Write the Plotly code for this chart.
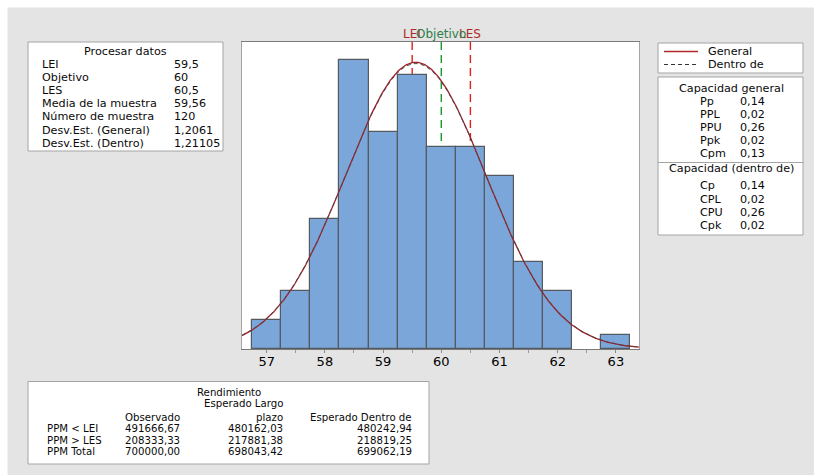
import numpy as np
import plotly.graph_objects as go

# ---------------- data ----------------
bin_centers = [57.0, 57.5, 58.0, 58.5, 59.0, 59.5, 60.0, 60.5, 61.0, 61.5, 62.0, 63.0]
bin_counts = [2, 4, 9, 20, 15, 19, 14, 14, 12, 6, 4, 1]
bin_width = 0.5

LEI = 59.5
objetivo = 60.0
LES = 60.5
media = 59.56
n_muestra = 120
sd_general = 1.2061
sd_dentro = 1.21105

x_ticks = [57, 58, 59, 60, 61, 62, 63]

proc_labels = ["LEI", "Objetivo", "LES", "Media de la muestra", "Número de muestra",
               "Desv.Est. (General)", "Desv.Est. (Dentro)"]
proc_values = ["59,5", "60", "60,5", "59,56", "120", "1,2061", "1,21105"]

cap_gen_labels = ["Pp", "PPL", "PPU", "Ppk", "Cpm"]
cap_gen_values = ["0,14", "0,02", "0,26", "0,02", "0,13"]
cap_den_labels = ["Cp", "CPL", "CPU", "Cpk"]
cap_den_values = ["0,14", "0,02", "0,26", "0,02"]

rend_rows = ["PPM < LEI", "PPM > LES", "PPM Total"]
rend_observado = ["491666,67", "208333,33", "700000,00"]
rend_largo = ["480162,03", "217881,38", "698043,42"]
rend_dentro = ["480242,94", "218819,25", "699062,19"]

# ---------------- layout geometry (screen px) ----------------
FIG_W, FIG_H = 814, 475
PL, PT, PW, PH = 242, 42, 397, 307  # plot area on screen


def P(sx, sy):
    return (sx - PL) / PW, (PT + PH - sy) / PH


FONT = "DejaVu Sans"
TXT = "#0A0A0A"
FS = 11.2
FS4 = 10.2

fig = go.Figure()

fig.add_trace(go.Bar(
    x=bin_centers, y=bin_counts, width=bin_width,
    marker=dict(color="#7BA6DA", line=dict(color="#555A60", width=1.2)),
    showlegend=False, hoverinfo="skip"))

xs = np.linspace(56.576, 63.397, 400)
scale = n_muestra * bin_width
y_gen = scale * np.exp(-0.5 * ((xs - media) / sd_general) ** 2) / (sd_general * np.sqrt(2 * np.pi))
y_den = scale * np.exp(-0.5 * ((xs - media) / sd_dentro) ** 2) / (sd_dentro * np.sqrt(2 * np.pi))
fig.add_trace(go.Scatter(x=xs, y=y_gen, mode="lines",
                         line=dict(color="#A3202A", width=1.3), showlegend=False, hoverinfo="skip"))
fig.add_trace(go.Scatter(x=xs, y=y_den, mode="lines",
                         line=dict(color="#4A4A4A", width=1.0, dash="4px,3px"),
                         showlegend=False, hoverinfo="skip"))

shapes = []
annots = []

# white page strips (top / left)
a0, b0 = P(0, 0)
a1, b1 = P(FIG_W, 7.5)
shapes.append(dict(type="rect", xref="paper", yref="paper", x0=a0, x1=a1, y0=b1, y1=b0,
                   line=dict(width=0), fillcolor="white", layer="above"))
a0, b0 = P(0, 0)
a1, b1 = P(7.5, FIG_H)
shapes.append(dict(type="rect", xref="paper", yref="paper", x0=a0, x1=a1, y0=b1, y1=b0,
                   line=dict(width=0), fillcolor="white", layer="above"))

# spec lines
for val, col in [(LEI, "#E0201E"), (objetivo, "#1A9A2A"), (LES, "#E0201E")]:
    shapes.append(dict(type="line", xref="x", yref="paper", x0=val, x1=val, y0=0, y1=1,
                       layer="below", line=dict(color=col, width=1.4, dash="8px,5px")))
_, ylab = P(0, 33.5)
for val, txt, col in [(LEI, "LEI", "#B0282A"), (LES, "LES", "#B0282A"), (objetivo, "Objetivo", "#2E7D4A")]:
    annots.append(dict(x=val, y=ylab, xref="x", yref="paper", text=txt, showarrow=False,
                       xanchor="center", yanchor="middle",
                       font=dict(family=FONT, size=12, color=col)))


def box(x0, y0, x1, y1):
    a0, b0 = P(x0, y0)
    a1, b1 = P(x1, y1)
    shapes.append(dict(type="rect", xref="paper", yref="paper", x0=a0, x1=a1, y0=b1, y1=b0,
                       line=dict(color="#A4A4A4", width=1), fillcolor="white", layer="above"))


def hline(x0, x1, y, color, dash="solid", width=1):
    a0, b = P(x0, y)
    a1, _ = P(x1, y)
    shapes.append(dict(type="line", xref="paper", yref="paper", x0=a0, x1=a1, y0=b, y1=b,
                       line=dict(color=color, width=width, dash=dash), layer="above"))


def text(sx, sy, t, anchor="left", size=FS):
    a, b = P(sx, sy)
    annots.append(dict(x=a, y=b, xref="paper", yref="paper", text=t, showarrow=False,
                       xanchor=anchor, yanchor="middle", align=anchor,
                       font=dict(family=FONT, size=size, color=TXT)))


# box 1: Procesar datos
box(28, 42, 223, 151)
text(125, 51.5, "Procesar datos", "center")
for lab, val, yy in zip(proc_labels, proc_values, [64, 77.2, 90.4, 103.6, 116.8, 130, 143]):
    text(40, yy, lab)
    text(172, yy, val)

# box 2: legend
box(658, 43, 803, 73)
hline(664, 698, 51.5, "#B0282A", width=1.3)
text(706, 51.5, "General")
hline(664, 698, 64.5, "#333333", dash="4px,3px", width=1.1)
text(706, 64.5, "Dentro de")

# box 3: capability
box(658, 77, 803, 235)
hline(658, 803, 162.5, "#A4A4A4")
text(731, 88.5, "Capacidad general", "center")
for lab, val, yy in zip(cap_gen_labels, cap_gen_values, [101.3, 114.3, 127.3, 140.3, 153.3]):
    text(698, yy, lab)
    text(738, yy, val)
text(731, 168.5, "Capacidad (dentro de)", "center")
for lab, val, yy in zip(cap_den_labels, cap_den_values, [185.7, 199, 212.3, 225.6]):
    text(698, yy, lab)
    text(738, yy, val)

# box 4: Rendimiento
box(28, 381.5, 429, 464)
text(229, 392, "Rendimiento", "center", FS4)
text(285, 403.5, "Esperado Largo", "right", FS4)
text(181.5, 417, "Observado", "right", FS4)
text(285, 417, "plazo", "right", FS4)
text(414, 417, "Esperado Dentro de", "right", FS4)
for lab, v1, v2, v3, yy in zip(rend_rows, rend_observado, rend_largo, rend_dentro, [428.7, 440, 451.3]):
    text(45, yy, lab, "left", FS4)
    text(181.5, yy, v1, "right", FS4)
    text(285, yy, v2, "right", FS4)
    text(414, yy, v3, "right", FS4)

fig.update_layout(
    width=FIG_W, height=FIG_H,
    margin=dict(l=PL, r=FIG_W - PL - PW, t=PT, b=FIG_H - PT - PH, pad=0),
    paper_bgcolor="#E4E4E4", plot_bgcolor="white",
    showlegend=False, bargap=0,
    shapes=shapes, annotations=annots,
    font=dict(family=FONT, color=TXT),
    xaxis=dict(range=[56.576, 63.397], tickvals=x_ticks, ticktext=[str(t) for t in x_ticks],
               showgrid=False, zeroline=False, showline=True, linecolor="#7A7A7A", linewidth=1,
               mirror=True, ticks="outside", ticklen=3, tickcolor="#8A8A8A",
               ticklabelstandoff=-3,
               minor=dict(dtick=0.5, tick0=57, ticks="outside", ticklen=3, tickcolor="#9A9A9A"),
               tickfont=dict(family=FONT, size=13, color="#000000")),
    yaxis=dict(range=[0, 21.25], showticklabels=False, showgrid=False, zeroline=False,
               showline=True, linecolor="#A4A4A4", mirror=True, ticks=""),
)

fig.write_html("out.html", config={"displayModeBar": False},
               post_script="document.body.style.margin='0px';")
